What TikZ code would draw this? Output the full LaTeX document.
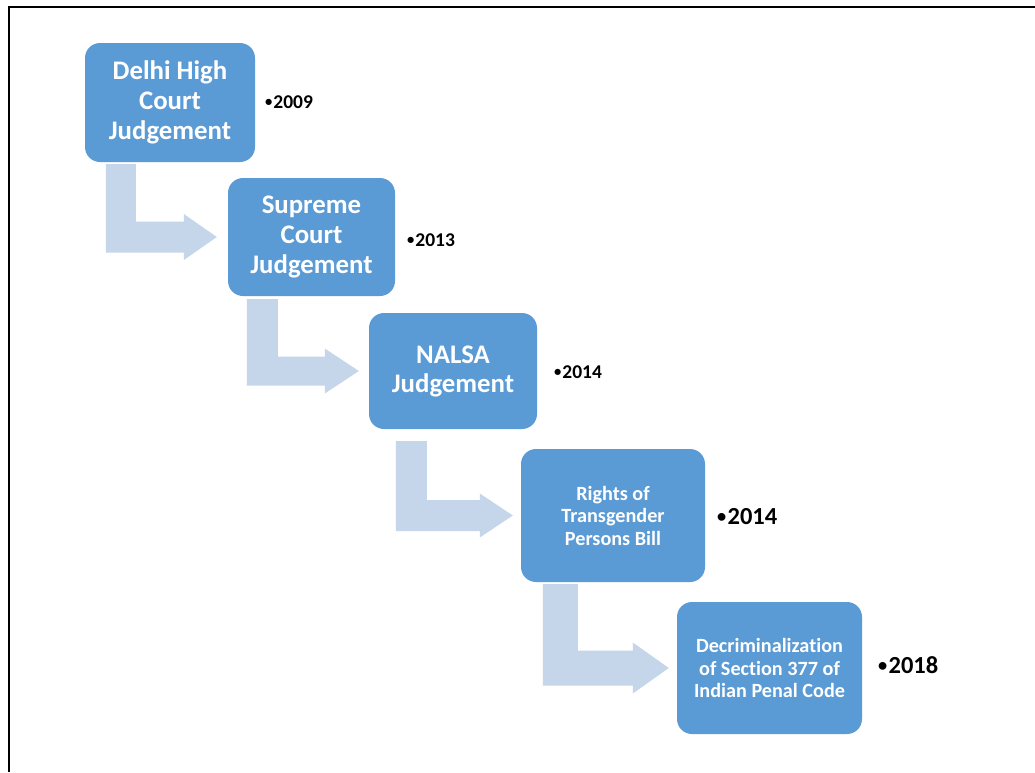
\documentclass[tikz,border=0pt]{standalone}
\usepackage{fontspec}
\setmainfont{Carlito}[Ligatures=NoCommon]
\usetikzlibrary{calc}
\definecolor{boxblue}{HTML}{5B9BD5}
\definecolor{arrowblue}{HTML}{C5D5EA}
\newcommand\yrbullet{\raisebox{0.09em}{\scalebox{0.75}{•}}\kern0.05em}
\tikzset{
  stagebox/.style={fill=boxblue, rounded corners=15pt, inner sep=0pt, text=white, align=center, font=\bfseries},
  bigtext/.style={font=\fontsize{26.8}{30}\selectfont\bfseries},
  smalltext/.style={font=\fontsize{20.2}{22.5}\selectfont\bfseries},
  yearsmall/.style={anchor=west, inner sep=0pt, font=\fontsize{19.5}{20}\selectfont\bfseries},
  yearbig/.style={anchor=west, inner sep=0pt, font=\fontsize{24.5}{26}\selectfont\bfseries},
  arrowfill/.style={fill=arrowblue}
}
% #1 from node, #2 to node, #3 dx, #4 dy, #5 stem width, #6 bar half, #7 head half, #8 head length, #9 gap
\newcommand\bentarrow[9]{%
  \fill[arrowfill] let \p1=(#1.south west), \p2=(#2.west) in
    (\x1+#3pt,\y1-#4pt) -- (\x1+#3pt+#5pt,\y1-#4pt) -- (\x1+#3pt+#5pt,\y2+#6pt)
    -- (\x2-#9pt-#8pt,\y2+#6pt) -- (\x2-#9pt-#8pt,\y2+#7pt) -- (\x2-#9pt,\y2)
    -- (\x2-#9pt-#8pt,\y2-#7pt) -- (\x2-#9pt-#8pt,\y2-#6pt) -- (\x1+#3pt,\y2-#6pt) -- cycle;}
\begin{document}
\begin{tikzpicture}[x=1pt,y=-1pt]
\useasboundingbox (0,0) rectangle (1035,772);
\fill[white] (0,0) rectangle (1035,772);
\draw[line width=2pt] (1035,7) -- (9,7) -- (9,772);

\node[stagebox, bigtext, minimum width=170pt, minimum height=119pt] (b1) at (170,102.5) {Delhi High\\Court\\Judgement};
\node[stagebox, bigtext, minimum width=167pt, minimum height=118pt] (b2) at (311.5,237) {Supreme\\Court\\Judgement};
\node[stagebox, font=\fontsize{26.8}{29}\selectfont\bfseries, minimum width=168pt, minimum height=116pt] (b3) at (453,371) {NALSA\\Judgement};
\node[stagebox, smalltext, minimum width=184pt, minimum height=133pt] (b4) at (613,515.5) {Rights of\\Transgender\\Persons Bill};
\node[stagebox, smalltext, minimum width=185pt, minimum height=132pt] (b5) at (769.5,668) {Decriminalization\\of Section 377 of\\Indian Penal Code};

\node[yearsmall] (y1) at (265,102) {\yrbullet 2009};
\node[yearsmall] (y2) at (407,240) {\yrbullet 2013};
\node[yearsmall] (y3) at (554,372) {\yrbullet 2014};
\node[yearbig] (y4) at (717,517) {\yrbullet 2014};
\node[yearbig] (y5) at (878,665) {\yrbullet 2018};

\bentarrow{b1}{b2}{21}{2}{30}{15.5}{23}{33}{11}
\bentarrow{b2}{b3}{19}{3}{31}{14.5}{22.5}{34}{10}
\bentarrow{b3}{b4}{27}{12}{31}{15.5}{22}{33}{8}
\bentarrow{b4}{b5}{22}{2}{35}{17.5}{25.5}{36}{8}
\end{tikzpicture}
\end{document}
